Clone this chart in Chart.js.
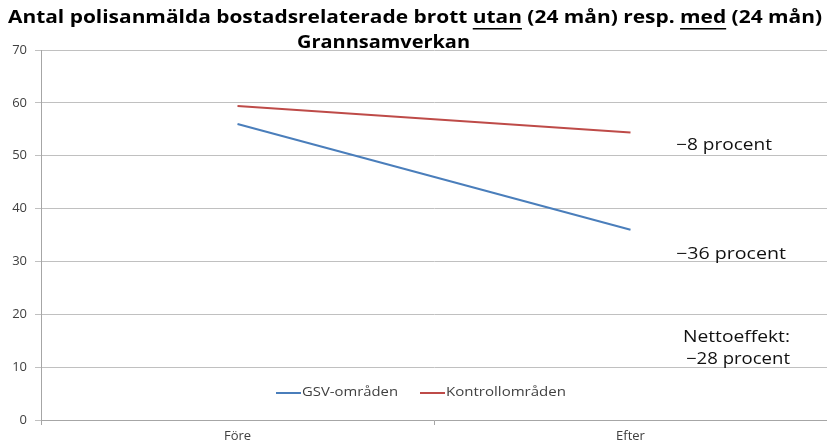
<!DOCTYPE html>
<html lang="sv">
<head>
  <meta charset="UTF-8">
  <title>Grannsamverkan</title>
  <script src="https://cdn.jsdelivr.net/npm/chart.js"></script>
  <style>
    body { margin: 0; padding: 0; background: #fff; }
    #wrap { width: 827px; height: 448px; position: relative; }
  </style>
</head>
<body>
  <div id="wrap"><canvas id="chart" width="827" height="448"></canvas></div>
  <script>
    const categories = ['Före', 'Efter'];
    const gsvValues = [56, 36];
    const kontrollValues = [59.4, 54.4];
    const seriesNames = ['GSV-områden', 'Kontrollområden'];
    const yTicks = [0, 10, 20, 30, 40, 50, 60, 70];
    const titleLines = ['Antal polisanmälda bostadsrelaterade brott utan (24 mån) resp. med (24 mån)', 'Grannsamverkan'];
    const noteTexts = ['\u22128 procent', '\u221236 procent', 'Nettoeffekt:', '\u221228 procent'];
    const noteValues = [52, 31.4, 15.7, 11.4];

    const colors = ['#4a7ebb', '#be4b48'];
    const font = "'Open Sans', 'DejaVu Sans', sans-serif";

    // text squeezed/stretched horizontally to a given width (the source image is stretched)
    function wideText(c, text, x, y, width) {
      const w = c.measureText(text).width;
      c.save();
      c.translate(x, y);
      c.scale(width / w, 1);
      c.textAlign = 'left';
      c.fillText(text, 0, 0);
      c.restore();
      return width / w;
    }

    // title, legend and side notes drawn straight on the canvas
    const extras = {
      id: 'extras',
      afterDraw(chart) {
        const c = chart.ctx;
        const y = chart.scales.y;
        c.save();
        c.fillStyle = '#000';
        c.textBaseline = 'middle';

        c.font = "bold 18px " + font;
        const full = titleLines[0];
        const k = wideText(c, full, 8, 18, 814);
        ['utan', 'med'].forEach(w => {
          const i = full.indexOf(w);
          const x0 = 8 + c.measureText(full.slice(0, i)).width * k;
          c.fillRect(x0, 28, c.measureText(w).width * k, 1.5);
        });
        wideText(c, titleLines[1], 297, 43, 173);

        // legend
        c.font = "12px " + font;
        const ly = 393;
        const legendX = [276, 420];
        const legendW = [96, 120];
        seriesNames.forEach((n, i) => {
          c.strokeStyle = colors[i];
          c.lineWidth = 2;
          c.beginPath();
          c.moveTo(legendX[i], ly);
          c.lineTo(legendX[i] + 25, ly);
          c.stroke();
          c.fillStyle = '#404040';
          wideText(c, n, legendX[i] + 26, ly, legendW[i]);
        });

        // notes on the right
        c.font = "16px " + font;
        c.fillStyle = '#111';
        const noteX = [676, 676, 683, 686];
        const noteW = [96, 110, 107, 104];
        noteTexts.forEach((t, i) => wideText(c, t, noteX[i], y.getPixelForValue(noteValues[i]), noteW[i]));
        c.restore();
      }
    };

    new Chart(document.getElementById('chart'), {
      type: 'line',
      data: {
        labels: categories,
        datasets: [
          { label: seriesNames[0], data: gsvValues, borderColor: colors[0], borderWidth: 2, pointRadius: 0, tension: 0 },
          { label: seriesNames[1], data: kontrollValues, borderColor: colors[1], borderWidth: 2, pointRadius: 0, tension: 0 }
        ]
      },
      options: {
        responsive: false,
        animation: false,
        layout: { padding: { top: 50, right: 0, left: 0, bottom: 0 } },
        plugins: { legend: { display: false }, title: { display: false }, tooltip: { enabled: false } },
        scales: {
          x: {
            offset: true,
            grid: { offset: true, drawOnChartArea: false, color: '#a6a6a6', tickLength: 5 },
            border: { color: '#a6a6a6' },
            ticks: { color: '#404040', font: { family: font, size: 13 }, padding: 3 },
            afterFit(s) { s.height = 28; }
          },
          y: {
            min: 0, max: 70,
            afterBuildTicks(s) { s.ticks = yTicks.map(v => ({ value: v })); },
            grid: { color: '#c0c0c0', tickLength: 6 },
            border: { color: '#a6a6a6' },
            ticks: { color: '#404040', font: { family: font, size: 13 }, padding: 8 },
            afterFit(s) { s.width = 41; }
          }
        }
      },
      plugins: [extras]
    });
  </script>
</body>
</html>
